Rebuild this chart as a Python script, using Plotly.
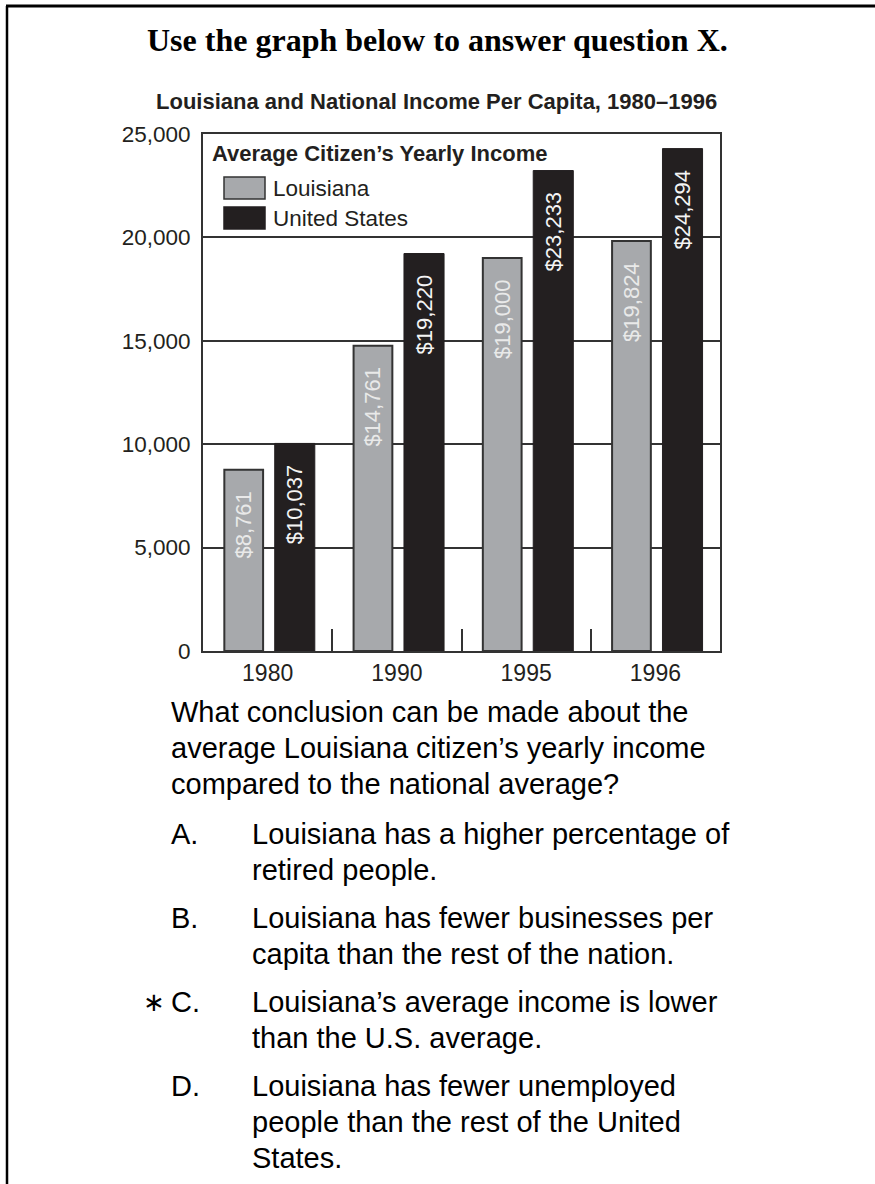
import plotly.graph_objects as go

# ---------------- data ----------------
years = ["1980", "1990", "1995", "1996"]
louisiana = [8761, 14761, 19000, 19824]
united_states = [10037, 19220, 23233, 24294]
y_ticks = [0, 5000, 10000, 15000, 20000, 25000]
y_tick_labels = ["0", "5,000", "10,000", "15,000", "20,000", "25,000"]

header = "Use the graph below to answer question X."
chart_title = "Louisiana and National Income Per Capita, 1980\u20131996"
legend_title = "Average Citizen\u2019s Yearly Income"
series_names = ["Louisiana", "United States"]

question_lines = [
    "What conclusion can be made about the",
    "average Louisiana citizen\u2019s yearly income",
    "compared to the national average?",
]
option_letters = ["A.", "B.", "C.", "D."]
option_lines = [
    ["Louisiana has a higher percentage of", "retired people."],
    ["Louisiana has fewer businesses per", "capita than the rest of the nation."],
    ["Louisiana\u2019s average income is lower", "than the U.S. average."],
    ["Louisiana has fewer unemployed", "people than the rest of the United", "States."],
]
correct_index = 2

# ---------------- layout constants (pixels) ----------------
W, H = 875, 1184
L, R, T, B = 203, 720, 134, 651
PW, PH = R - L, B - T

def px(x):
    return (x - L) / PW

def py(y):
    return (B - y) / PH

SANS = "Liberation Sans, Arial, Helvetica, sans-serif"
SERIF = "Liberation Serif, Times New Roman, serif"
INK = "#231f20"
GRAY = "#a7a9ac"
LINE = "#333333"

fig = go.Figure()
fig.add_trace(go.Bar(
    x=years, y=louisiana, name=series_names[0],
    offset=-0.335, width=0.30,
    marker=dict(color=GRAY, line=dict(color=LINE, width=2)),
    texttemplate="$%{y:,}\u00a0\u00a0\u00a0", textposition="inside",
    insidetextanchor="end", textangle=-90, constraintext="none",
    textfont=dict(family=SANS, size=22, color="#e9e9e9"),
    showlegend=False, hoverinfo="skip",
))
fig.add_trace(go.Bar(
    x=years, y=united_states, name=series_names[1],
    offset=0.055, width=0.31,
    marker=dict(color=INK, line=dict(color=INK, width=1)),
    texttemplate="$%{y:,}\u00a0\u00a0\u00a0", textposition="inside",
    insidetextanchor="end", textangle=-90, constraintext="none",
    textfont=dict(family=SANS, size=22, color="#f4f4f4"),
    showlegend=False, hoverinfo="skip",
))

ann = []
shapes = []

# header and chart title
ann.append(dict(text=f"<b>{header}</b>", x=px(437.5), y=py(40), xref="paper", yref="paper",
                xanchor="center", yanchor="middle", showarrow=False,
                font=dict(family=SERIF, size=32, color="#000")))
ann.append(dict(text=f"<b>{chart_title}</b>", x=px(436), y=py(102), xref="paper", yref="paper",
                xanchor="center", yanchor="middle", showarrow=False,
                font=dict(family=SANS, size=22, color=INK)))

# legend (drawn manually to match the wide swatches)
ann.append(dict(text=f"<b>{legend_title}</b>", x=px(210), y=py(153), xref="paper", yref="paper",
                xanchor="left", yanchor="middle", showarrow=False,
                font=dict(family=SANS, size=22, color=INK)))
sw_y = [188, 218]
sw_fill = [GRAY, INK]
for i, name in enumerate(series_names):
    shapes.append(dict(type="rect", xref="paper", yref="paper",
                       x0=px(224), x1=px(265), y0=py(sw_y[i] - 11), y1=py(sw_y[i] + 11),
                       fillcolor=sw_fill[i], line=dict(color=LINE if i == 0 else INK, width=1.5)))
    ann.append(dict(text=name, x=px(271), y=py(sw_y[i]), xref="paper", yref="paper",
                    xanchor="left", yanchor="middle", showarrow=False,
                    font=dict(family=SANS, size=22.5, color=INK)))

# question text
q_y = [712, 748, 784]
for line, yy in zip(question_lines, q_y):
    ann.append(dict(text=line, x=px(169), y=py(yy), xref="paper", yref="paper",
                    xanchor="left", yanchor="middle", showarrow=False,
                    font=dict(family=SANS, size=29, color="#000")))

opt_y = [[834, 870], [918, 954], [1002, 1038], [1086, 1122, 1158]]
for k, letter in enumerate(option_letters):
    ann.append(dict(text=letter, x=px(169), y=py(opt_y[k][0]), xref="paper", yref="paper",
                    xanchor="left", yanchor="middle", showarrow=False,
                    font=dict(family=SANS, size=29, color="#000")))
    if k == correct_index:
        ann.append(dict(text="\u2217", x=px(141), y=py(opt_y[k][0]), xref="paper", yref="paper",
                        xanchor="left", yanchor="middle", showarrow=False,
                        font=dict(family="DejaVu Sans, " + SANS, size=26, color="#000")))
    for line, yy in zip(option_lines[k], opt_y[k]):
        ann.append(dict(text=line, x=px(250), y=py(yy), xref="paper", yref="paper",
                        xanchor="left", yanchor="middle", showarrow=False,
                        font=dict(family=SANS, size=29, color="#000")))

# page frame (top and left rules)
shapes.append(dict(type="line", xref="paper", yref="paper", x0=px(6), x1=px(W), y0=py(6), y1=py(6),
                   line=dict(color="#000", width=3)))
shapes.append(dict(type="line", xref="paper", yref="paper", x0=px(7), x1=px(7), y0=py(6), y1=py(H),
                   line=dict(color="#000", width=2.5)))

fig.update_layout(
    width=W, height=H,
    margin=dict(l=L, r=W - R, t=T, b=H - B, pad=0),
    paper_bgcolor="white", plot_bgcolor="white",
    barmode="overlay",
    showlegend=False,
    annotations=ann, shapes=shapes,
    font=dict(family=SANS, color=INK),
)
fig.update_xaxes(
    type="category", showgrid=False,
    showline=True, linecolor=LINE, linewidth=2, mirror=True,
    ticks="inside", tickson="boundaries", ticklen=22, tickwidth=2, tickcolor=LINE,
    tickfont=dict(family=SANS, size=23, color=INK),
    fixedrange=True,
)
fig.update_yaxes(
    range=[0, 25000], tickvals=y_ticks, ticktext=y_tick_labels,
    showgrid=True, gridcolor=LINE, gridwidth=2,
    showline=True, linecolor=LINE, linewidth=2, mirror=True,
    ticks="", ticklabelstandoff=6, zeroline=False,
    tickfont=dict(family=SANS, size=22.5, color=INK),
    fixedrange=True,
)

fig.write_html("out.html", config=dict(displayModeBar=False))
